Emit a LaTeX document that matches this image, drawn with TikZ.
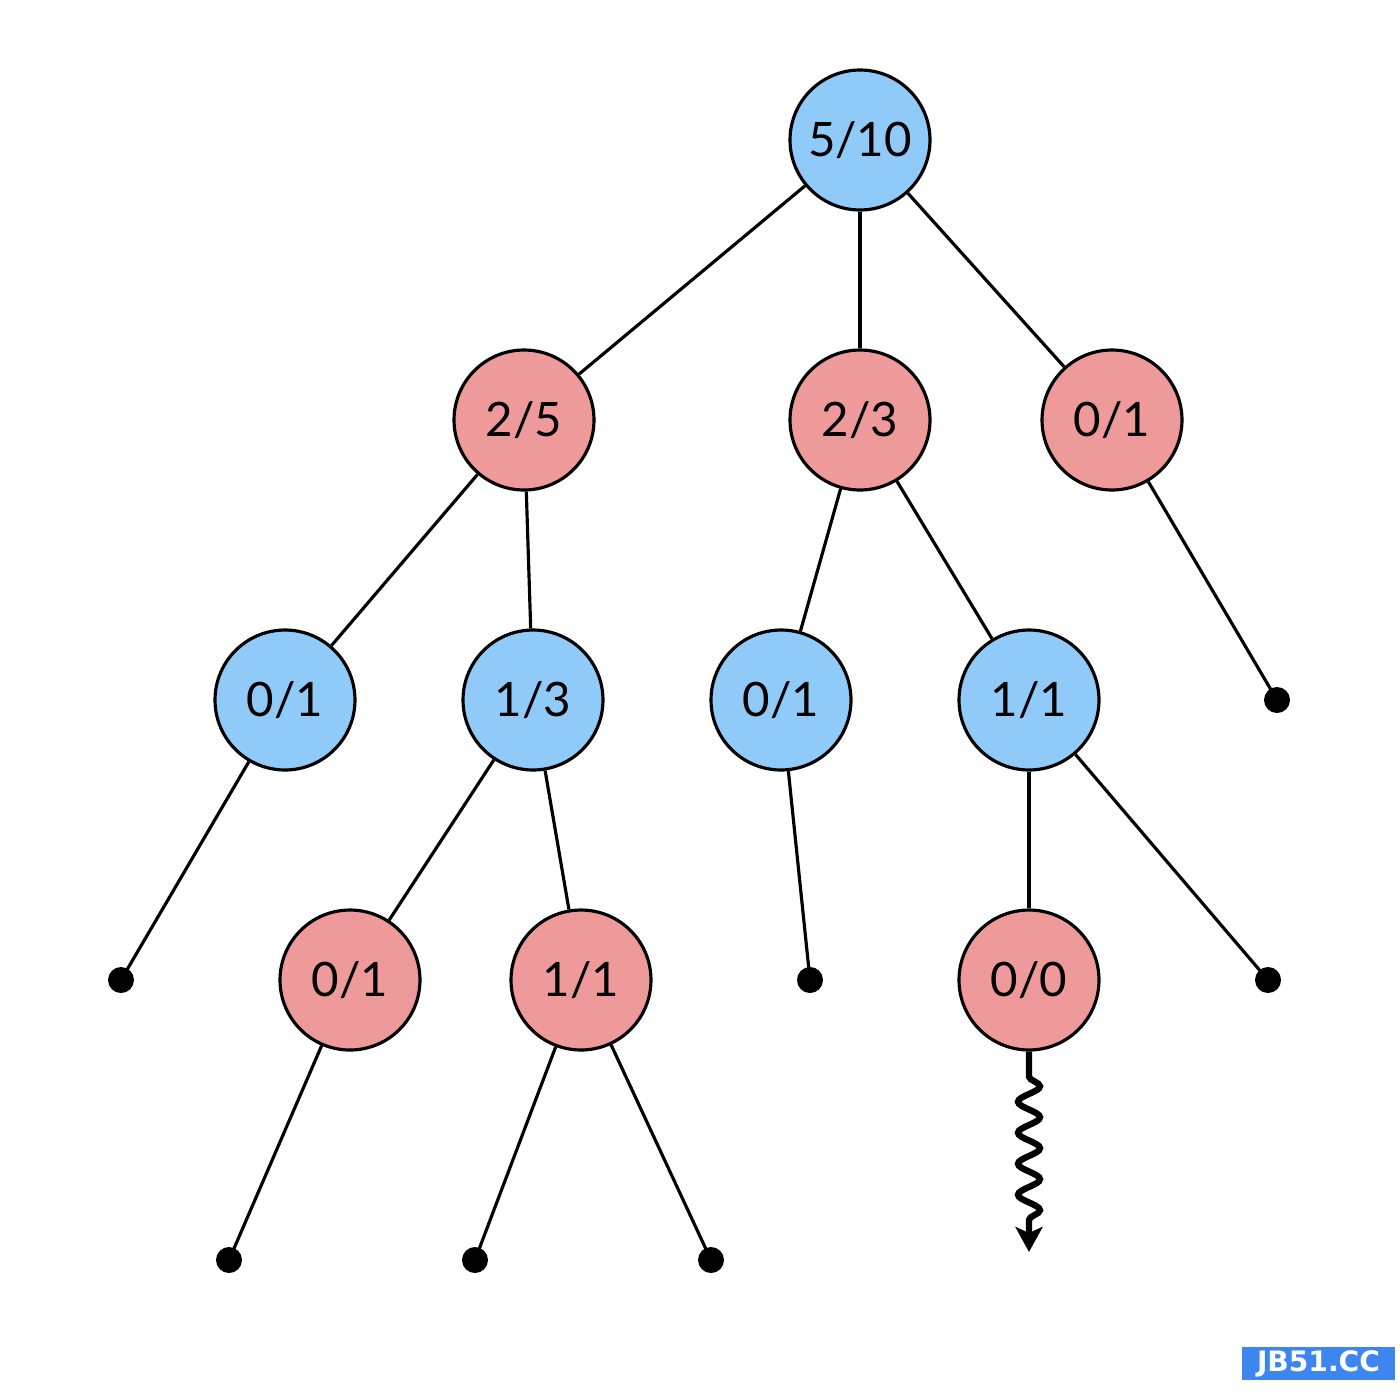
\documentclass[tikz,border=0pt]{standalone}
\usepackage{fontspec}
\setmainfont{Lato}
\newfontfamily\wmfont{DejaVu Sans}
\usetikzlibrary{decorations.pathmorphing,arrows.meta}
\definecolor{nblue}{HTML}{90CAF9}
\definecolor{nred}{HTML}{EF9A9A}
\definecolor{wmblue}{HTML}{3D86F0}
\begin{document}
\begin{tikzpicture}[x=0.02cm,y=-0.02cm,
  vnode/.style={circle,draw=black,line width=1.8pt,minimum size=2.8cm,inner sep=0pt,font=\fontsize{27}{30}\selectfont},
  bnode/.style={vnode,fill=nblue},
  rnode/.style={vnode,fill=nred},
  leaf/.style={circle,fill=black,minimum size=0.52cm,inner sep=0pt},
  edge/.style={line width=1.8pt}]
\useasboundingbox (0,0) rectangle (1400,1400);
\node[bnode] (r) at (860,140) {5/10};
\node[rnode] (a) at (524,420) {2/5};
\node[rnode] (b) at (860,420) {2/3};
\node[rnode] (c) at (1112,420) {0/1};
\node[bnode] (aa) at (285,700) {0/1};
\node[bnode] (ab) at (533,700) {1/3};
\node[bnode] (ba) at (781,700) {0/1};
\node[bnode] (bb) at (1029,700) {1/1};
\node[leaf] (cl) at (1277,700) {};
\node[leaf] (aal) at (121,980) {};
\node[rnode] (aba) at (350,980) {0/1};
\node[rnode] (abb) at (581,980) {1/1};
\node[leaf] (bal) at (810,980) {};
\node[rnode] (bba) at (1029,980) {0/0};
\node[leaf] (bbl) at (1268,980) {};
\node[leaf] (abal) at (229,1260) {};
\node[leaf] (abbl) at (475,1260) {};
\node[leaf] (abbr) at (711,1260) {};
\coordinate (wend) at (1029,1252);
\draw[edge] (r) -- (a);
\draw[edge] (r) -- (b);
\draw[edge] (r) -- (c);
\draw[edge] (a) -- (aa);
\draw[edge] (a) -- (ab);
\draw[edge] (b) -- (ba);
\draw[edge] (b) -- (bb);
\draw[edge] (c) -- (cl.center);
\draw[edge] (aa) -- (aal.center);
\draw[edge] (ab) -- (aba);
\draw[edge] (ab) -- (abb);
\draw[edge] (ba) -- (bal.center);
\draw[edge] (bb) -- (bba);
\draw[edge] (bb) -- (bbl.center);
\draw[edge] (aba) -- (abal.center);
\draw[edge] (abb) -- (abbl.center);
\draw[edge] (abb) -- (abbr.center);
\draw[line width=3.6pt,-{Stealth[length=0.5cm,width=0.54cm,inset=0.12cm]},
  decorate,decoration={snake,amplitude=0.22cm,segment length=0.62cm,pre length=0.5cm,post length=0.6cm}]
  (bba) -- (wend);
\node[fill=wmblue,text=white,font=\wmfont\bfseries\fontsize{16}{18}\selectfont,minimum width=3.06cm,minimum height=0.66cm,inner sep=0pt] (wm) at (1318.5,1363.5) {JB51.CC};
\end{tikzpicture}
\end{document}
